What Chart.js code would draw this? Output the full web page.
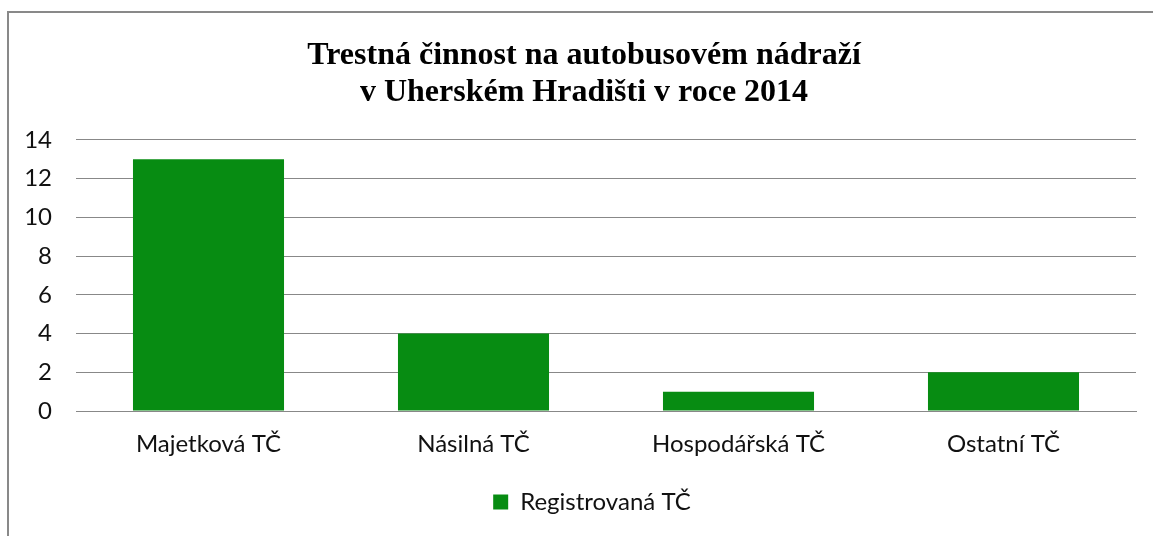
<!DOCTYPE html>
<html>
<head>
<meta charset="utf-8">
<script src="https://cdn.jsdelivr.net/npm/chart.js@4"></script>
<style>
  html, body { margin: 0; padding: 0; background: #fff; }
  #wrap { position: relative; width: 1153px; height: 536px; }
  #frame {
    position: absolute; left: 7px; top: 11px; right: -10px; bottom: -10px;
    border-left: 2px solid #898989; border-top: 2px solid #898989;
    pointer-events: none;
  }
</style>
</head>
<body>
<div id="wrap">
  <canvas id="chart" width="1153" height="536"></canvas>
  <div id="frame"></div>
</div>
<script>
// Trestná činnost na autobusovém nádraží
const CATEGORIES = ['Majetková TČ', 'Násilná TČ', 'Hospodářská TČ', 'Ostatní TČ'];
const SERIES_LABEL = 'Registrovaná TČ';
const SERIES_VALUES = [13, 4, 1, 2];
const TITLE_LINES = ['Trestná činnost na autobusovém nádraží', 'v Uherském Hradišti v roce 2014'];
const Y_MIN = 0;
const Y_MAX = 14;
const Y_STEP = 2;

const BAR_GREEN = '#078C12';
const GRID_GRAY = '#888888';
const LABEL_FONT = 'Lato, "Open Sans", sans-serif';

// title and legend sit a bit right of the canvas centre in the original
const nudgeBlocks = {
  id: 'nudgeBlocks',
  afterLayout(chart) {
    const t = chart.titleBlock;
    if (t) { t.left += 11; t.right += 11; }
    const l = chart.legend;
    if (l) { l.left += 19; l.right += 19; }
  }
};

const ctx = document.getElementById('chart').getContext('2d');

new Chart(ctx, {
  type: 'bar',
  data: {
    labels: CATEGORIES,
    datasets: [{
      label: SERIES_LABEL,
      data: SERIES_VALUES,
      backgroundColor: BAR_GREEN,
      borderWidth: 0,
      categoryPercentage: 0.57,
      barPercentage: 1.0
    }]
  },
  options: {
    responsive: false,
    animation: false,
    layout: { padding: { left: 10, right: 17, top: 12, bottom: 12 } },
    plugins: {
      title: {
        display: true,
        text: TITLE_LINES,
        color: '#000',
        font: { family: '"Liberation Serif", "Times New Roman", serif', size: 32, weight: 'bold', lineHeight: 1.156 },
        padding: { top: 25, bottom: 29 }
      },
      legend: {
        position: 'bottom',
        labels: {
          color: '#111',
          font: { family: LABEL_FONT, size: 24 },
          boxWidth: 15,
          boxHeight: 15,
          padding: 14
        }
      },
      tooltip: { enabled: false }
    },
    scales: {
      x: {
        grid: { display: false, drawTicks: false },
        border: { display: true, color: GRID_GRAY, width: 1 },
        ticks: {
          color: '#111',
          font: { family: LABEL_FONT, size: 24 },
          padding: 19,
          maxRotation: 0
        },
        afterFit: scale => { scale.height = 65; }
      },
      y: {
        min: Y_MIN,
        max: Y_MAX,
        grid: { color: GRID_GRAY, lineWidth: 1, drawTicks: false },
        border: { display: false },
        ticks: {
          stepSize: Y_STEP,
          color: '#111',
          font: { family: LABEL_FONT, size: 24 },
          padding: 24
        },
        afterFit: scale => { scale.width = 66; }
      }
    }
  },
  plugins: [nudgeBlocks]
});
</script>
</body>
</html>
